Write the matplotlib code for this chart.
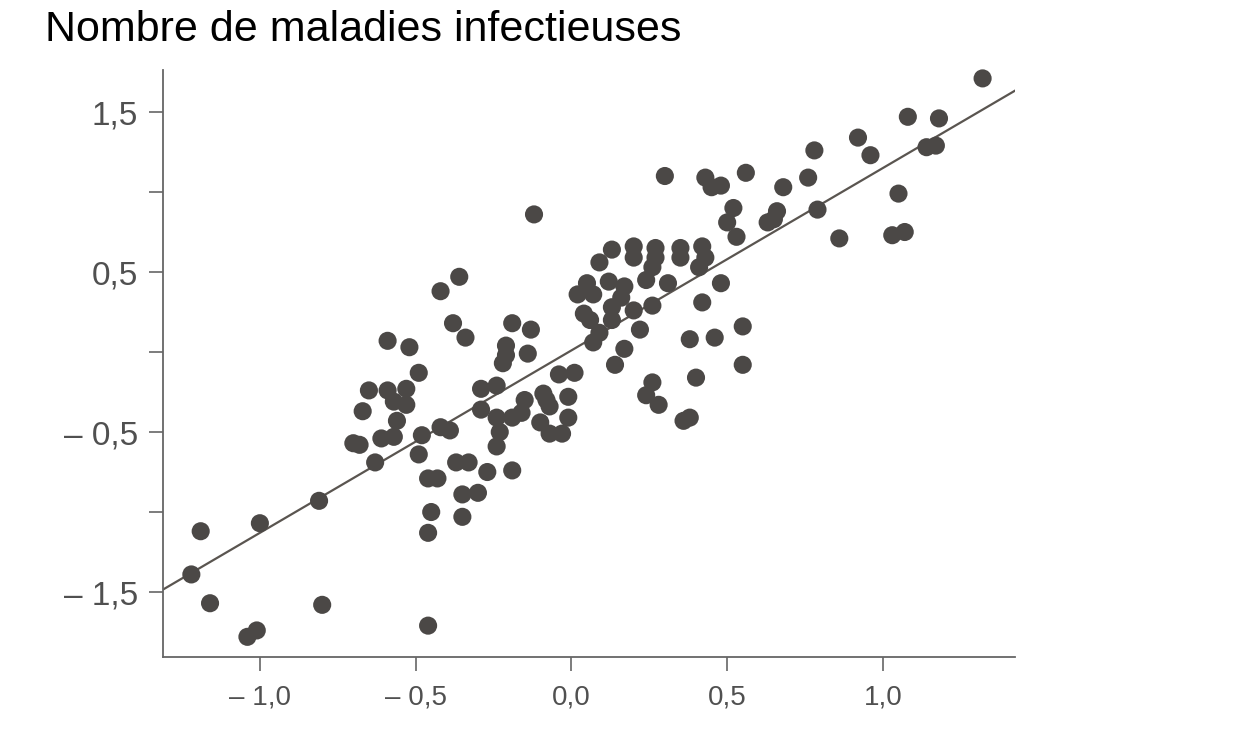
import numpy as np
import matplotlib
matplotlib.use("Agg")
import matplotlib.pyplot as plt

# ================= DATA =================
TITLE = "Nombre de maladies infectieuses"

x_vals = [
    -1.19, -1.22, -1.16, -1.04, -1.01, -1.00, -0.81, -0.80, -0.46, -0.46,
    -0.45, -0.46, -0.43, -0.70, -0.68, -0.61, -0.57, -0.48, -0.42, -0.39,
    -0.49, -0.63, -0.37, -0.35, -0.35, -0.23, -0.24, -0.19, -0.16, -0.24,
    -0.33, -0.27, -0.19, -0.30, -0.10, -0.07, -0.03, -0.01, -0.59, -0.52,
    -0.49, -0.65, -0.59, -0.53, -0.57, -0.53, -0.67, -0.56, -0.38, -0.34,
    -0.36, -0.42, -0.12, -0.19, -0.13, 0.02, 0.05, 0.04, -0.21, -0.21,
    -0.22, -0.14, -0.04, 0.01, -0.29, -0.24, -0.29, -0.15, -0.09, -0.08,
    -0.07, -0.01, 0.13, 0.20, 0.20, 0.27, 0.27, 0.26, 0.35, 0.35,
    0.42, 0.43, 0.41, 0.09, 0.24, 0.31, 0.07, 0.12, 0.17, 0.16,
    0.06, 0.13, 0.20, 0.26, 0.42, 0.13, 0.22, 0.09, 0.07, 0.17,
    0.14, 0.26, 0.24, 0.28, 0.38, 0.46, 0.40, 0.36, 0.38, 1.32,
    1.08, 1.18, 0.92, 0.96, 0.78, 1.14, 1.17, 0.56, 0.43, 0.45,
    0.48, 0.76, 0.68, 1.05, 0.52, 0.66, 0.50, 0.63, 0.65, 0.79,
    0.53, 0.86, 1.03, 1.07, 0.48, 0.55, 0.55, 0.30,
]
y_vals = [
    -1.12, -1.39, -1.57, -1.78, -1.74, -1.07, -0.93, -1.58, -1.71, -1.13,
    -1.00, -0.79, -0.79, -0.57, -0.58, -0.54, -0.53, -0.52, -0.47, -0.49,
    -0.64, -0.69, -0.69, -0.89, -1.03, -0.50, -0.41, -0.41, -0.38, -0.59,
    -0.69, -0.75, -0.74, -0.88, -0.44, -0.51, -0.51, -0.41, 0.07, 0.03,
    -0.13, -0.24, -0.24, -0.23, -0.31, -0.33, -0.37, -0.43, 0.18, 0.09,
    0.47, 0.38, 0.86, 0.18, 0.14, 0.36, 0.43, 0.24, 0.04, -0.02,
    -0.07, -0.01, -0.14, -0.13, -0.23, -0.21, -0.36, -0.30, -0.26, -0.30,
    -0.34, -0.28, 0.64, 0.66, 0.59, 0.65, 0.59, 0.53, 0.65, 0.59,
    0.66, 0.59, 0.53, 0.56, 0.45, 0.43, 0.36, 0.44, 0.41, 0.34,
    0.20, 0.28, 0.26, 0.29, 0.31, 0.20, 0.14, 0.12, 0.06, 0.02,
    -0.08, -0.19, -0.27, -0.33, 0.08, 0.09, -0.16, -0.43, -0.41, 1.71,
    1.47, 1.46, 1.34, 1.23, 1.26, 1.28, 1.29, 1.12, 1.09, 1.03,
    1.04, 1.09, 1.03, 0.99, 0.90, 0.88, 0.81, 0.81, 0.83, 0.89,
    0.72, 0.71, 0.73, 0.75, 0.43, 0.16, -0.08, 1.10,
]

# regression line
line_slope = 1.14
line_intercept = 0.01

x_ticks = [-1.0, -0.5, 0.0, 0.5, 1.0]
x_tick_labels = ["\u2013 1,0", "\u2013 0,5", "0,0", "0,5", "1,0"]
y_ticks = [-1.5, -1.0, -0.5, 0.0, 0.5, 1.0, 1.5]
y_tick_labels = ["\u2013 1,5", "", "\u2013 0,5", "", "0,5", "", "1,5"]

# ================= PLOT =================
plt.rcParams["font.family"] = ["Liberation Sans", "DejaVu Sans"]

fig = plt.figure(figsize=(12.54, 7.39), dpi=100)
ax = fig.add_axes([163 / 1254, 1 - 657 / 739, (1015 - 163) / 1254, (657 - 70) / 739])

xmin, xmax = -1.311, 1.424
ax.set_xlim(xmin, xmax)
ax.set_ylim(-1.906, 1.7625)

line_x = np.array([xmin, xmax])
ax.plot(line_x, line_slope * line_x + line_intercept, color="#5a5550", lw=1.6, zorder=2)

ax.scatter(x_vals, y_vals, s=170, color="#4b4846", edgecolors="none", zorder=3, clip_on=False)

for side in ["top", "right"]:
    ax.spines[side].set_visible(False)
for side in ["left", "bottom"]:
    ax.spines[side].set_color("#666666")
    ax.spines[side].set_linewidth(1.3)

ax.set_xticks(x_ticks, labels=x_tick_labels)
ax.set_yticks(y_ticks, labels=y_tick_labels)
ax.tick_params(axis="both", direction="out", length=10, width=1.2, color="#666666",
               labelcolor="#505050")
ax.tick_params(axis="x", pad=10, labelsize=20)
ax.tick_params(axis="y", pad=8, labelsize=24)

fig.text(45 / 1254, 1 - 41 / 739, TITLE, fontsize=31, color="black", va="baseline", ha="left")

fig.savefig("out.png", dpi=100, facecolor="white")
